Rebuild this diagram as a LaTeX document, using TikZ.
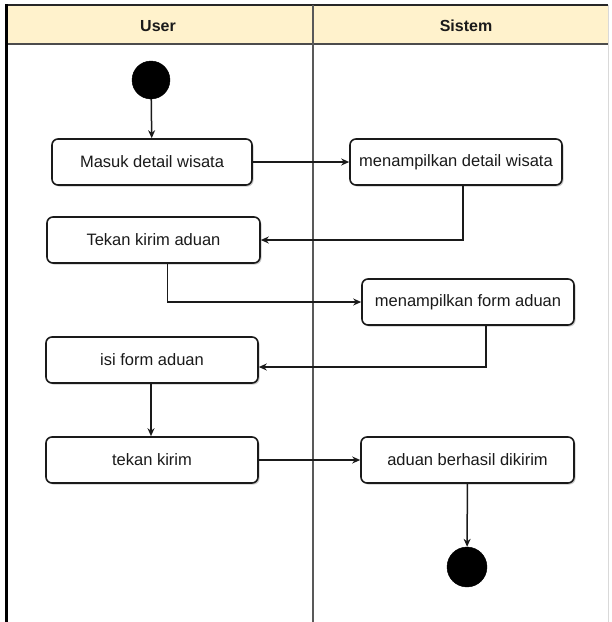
\documentclass[tikz,border=0pt]{standalone}
\usepackage{fontspec}
\setmainfont{Liberation Sans}
\usetikzlibrary{arrows.meta,shadows}
\definecolor{lanehead}{HTML}{FFF2CC}
\definecolor{ink}{HTML}{1A1A1A}
\begin{document}
\begin{tikzpicture}[x=1pt,y=-1pt,
  action/.style={draw=ink,line width=1.6pt,rounded corners=6pt,fill=white,
    minimum height=46pt,inner sep=0pt,font=\fontsize{16.5}{19}\selectfont,text=ink,
    drop shadow={shadow xshift=1.5pt,shadow yshift=-1.5pt,opacity=0.35,fill=black!60}},
  startstop/.style={circle,fill=black,draw=black,minimum size=#1,inner sep=0pt},
  flow/.style={draw=ink,line width=1.5pt,-{Stealth[length=8pt,width=7pt]}},
  lanetitle/.style={font=\bfseries\fontsize{16}{18}\selectfont,text=ink}]
\useasboundingbox (0,0) rectangle (612,622);

% swimlane frame
\fill[lanehead] (6,5) rectangle (608,44);
\draw[black!85,line width=2pt] (5,5) -- (608,5);
\draw[black!70,line width=2pt] (6,44) -- (608,44);
\draw[black!15,line width=1pt] (608,5) -- (608,622);
\draw[black!65,line width=2pt] (313,5) -- (313,622);
\draw[black,line width=3pt] (6.5,4) -- (6.5,622);
\node[lanetitle] (userlane) at (158,26) {User};
\node[lanetitle] (syslane) at (466,26) {Sistem};

% activities
\node[startstop=38pt] (start) at (151,80) {};
\node[action,minimum width=200pt] (b1) at (152,162) {Masuk detail wisata};
\node[action,minimum width=212pt] (b2) at (456,162) {menampilkan detail wisata};
\node[action,minimum width=213pt] (b3) at (153.5,240) {Tekan kirim aduan};
\node[action,minimum width=212pt] (b4) at (468,302) {menampilkan form aduan};
\node[action,minimum width=212pt] (b5) at (152,360) {isi form aduan};
\node[action,minimum width=212pt] (b6) at (152,460) {tekan kirim};
\node[action,minimum width=213pt] (b7) at (467.5,460) {aduan berhasil dikirim};
\node[startstop=40pt] (end) at (467,567) {};

% control flow
\draw[flow] (start) -- (b1);
\draw[flow] (b1) -- (b2);
\draw[flow] ([xshift=7pt]b2.south) |- (b3.east);
\draw[flow] ([xshift=14pt]b3.south) |- (b4.west);
\draw[flow] ([xshift=18pt]b4.south) |- ([yshift=-7pt]b5.east);
\draw[flow] (b5.south -| 151,0) -- (b6.north -| 151,0);
\draw[flow] (b6) -- (b7);
\draw[flow] (b7) -- (end);
\end{tikzpicture}
\end{document}
